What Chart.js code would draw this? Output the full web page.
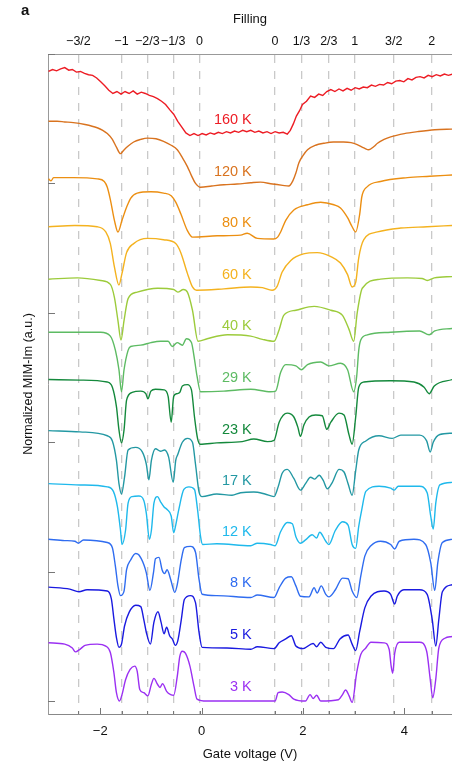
<!DOCTYPE html>
<html>
<head>
<meta charset="utf-8">
<script src="https://cdn.jsdelivr.net/npm/chart.js@4.4.1/dist/chart.umd.min.js"></script>
<style>
body{margin:0;background:#fff;overflow:hidden}
#wrap{position:relative;width:452px;height:764px}
#panel{position:absolute;left:21px;top:1px;font:bold 15px "Liberation Sans",Arial,sans-serif;color:#111}
</style>
</head>
<body>
<div id="wrap">
<canvas id="mim" width="452" height="764"></canvas>
<div id="panel">a</div>
</div>
<script>

// temperatures, top to bottom
const temps = ["160 K","120 K","80 K","60 K","40 K","29 K","23 K","17 K","12 K","8 K","5 K","3 K"]
const colors = ["#ed1c24","#d9731f","#ec8f12","#f4b21f","#9ccb3b","#5dbb63","#14893c","#2398a3","#1fb9ec","#2f6cf0","#1a1ae0","#9b30f2"]
const offsets = [43.8,39.8,35.85,31.85,27.9,23.9,19.85,15.9,12,8,4,0]

const voltTicks = [-2,0,2,4]
const voltLabels = ["\u22122","0","2","4"]
const fillingPos = [-2.43,-1.58,-1.07,-0.56,-0.04,1.45,1.97,2.51,3.02,3.79,4.54]
const fillingLabels = ["\u22123/2","\u22121","\u22122/3","\u22121/3","0","0","1/3","2/3","1","3/2","2"]
const yTicks = [0,10,20,30,40,50]

// [gate voltage, normalized MIM-Im] per trace
const t160 = [[-3.02,4.85],[-2.94,5.0],[-2.86,4.9],[-2.78,5.05],[-2.7,5.15],[-2.62,4.95],[-2.55,5.0],[-2.47,4.8],[-2.39,4.85],[-2.31,4.7],[-2.23,4.6],[-2.15,4.55],[-2.07,4.35],[-1.99,4.05],[-1.91,3.75],[-1.83,3.4],[-1.75,3.15],[-1.67,3.3],[-1.59,3.1],[-1.51,3.3],[-1.43,3.15],[-1.35,3.35],[-1.27,3.1],[-1.19,3.25],[-1.11,3.15],[-1.03,3.0],[-0.95,2.9],[-0.87,2.75],[-0.79,2.55],[-0.71,2.3],[-0.63,1.9],[-0.55,1.55],[-0.47,1.0],[-0.39,0.55],[-0.31,0.1],[-0.23,-0.1],[-0.15,0.05],[-0.07,-0.1],[0.01,0.05],[0.09,-0.05],[0.17,0.1],[0.25,0.0],[0.33,0.15],[0.41,0.05],[0.49,0.2],[0.57,0.1],[0.65,0.25],[0.73,0.15],[0.81,0.3],[0.89,0.2],[0.97,0.3],[1.05,0.15],[1.13,0.25],[1.21,0.1],[1.29,0.2],[1.37,0.05],[1.45,0.2],[1.53,0.1],[1.61,0.15],[1.69,0.0],[1.75,0.3],[1.81,0.8],[1.87,1.4],[1.93,1.8],[1.99,2.3],[2.07,2.55],[2.15,2.95],[2.23,2.85],[2.31,3.1],[2.39,3.0],[2.47,3.3],[2.55,3.45],[2.63,3.3],[2.71,3.5],[2.79,3.35],[2.87,3.55],[2.95,3.4],[3.03,3.6],[3.11,3.5],[3.19,3.65],[3.27,3.6],[3.35,3.8],[3.43,3.7],[3.51,3.85],[3.59,3.8],[3.67,4.0],[3.75,3.9],[3.83,4.1],[3.91,4.15],[3.99,4.05],[4.07,4.3],[4.15,4.2],[4.23,4.4],[4.31,4.45],[4.39,4.35],[4.47,4.55],[4.55,4.45],[4.63,4.6],[4.71,4.5],[4.79,4.65],[4.87,4.55],[4.95,4.65]]
const t120 = [[-3.02,5.0],[-2.85,5.0],[-2.7,4.95],[-2.53,4.9],[-2.3,4.75],[-2.06,4.5],[-1.95,4.3],[-1.86,4.05],[-1.76,3.6],[-1.68,3.0],[-1.6,2.5],[-1.54,2.75],[-1.46,3.05],[-1.34,3.4],[-1.2,3.6],[-1.07,3.7],[-0.9,3.65],[-0.75,3.45],[-0.6,3.15],[-0.48,2.8],[-0.38,2.2],[-0.28,1.5],[-0.2,0.8],[-0.12,0.2],[-0.02,-0.1],[0.2,0.0],[0.44,0.1],[0.7,0.15],[0.97,0.25],[1.16,0.3],[1.4,0.15],[1.6,0.05],[1.72,0.0],[1.8,0.4],[1.86,1.0],[1.92,1.8],[2.0,2.35],[2.09,2.8],[2.25,3.15],[2.41,3.3],[2.6,3.4],[2.8,3.4],[2.95,3.35],[3.07,3.2],[3.2,2.95],[3.3,2.8],[3.4,3.05],[3.47,3.3],[3.6,3.6],[3.73,3.8],[4.0,4.05],[4.26,4.2],[4.6,4.35],[4.95,4.4]]
const t80 = [[-3.02,4.5],[-2.97,4.35],[-2.92,4.6],[-2.53,4.6],[-2.06,4.5],[-1.92,4.3],[-1.86,3.85],[-1.8,2.9],[-1.72,1.3],[-1.65,0.4],[-1.57,1.3],[-1.48,2.3],[-1.4,3.0],[-1.27,3.4],[-1.0,3.5],[-0.75,3.4],[-0.6,3.2],[-0.51,2.7],[-0.41,1.8],[-0.28,0.5],[-0.18,0.0],[0.31,0.1],[0.77,0.15],[0.9,0.3],[1.1,-0.1],[1.42,-0.15],[1.5,0.0],[1.56,0.4],[1.66,1.3],[1.82,2.1],[2.09,2.5],[2.35,2.7],[2.61,2.5],[2.74,2.25],[2.88,1.5],[2.97,0.8],[3.04,0.4],[3.12,1.8],[3.16,3.1],[3.27,3.9],[3.53,4.3],[4.06,4.6],[4.5,4.7],[4.95,4.8]]
const t60 = [[-3.02,4.8],[-2.5,4.9],[-2.06,4.8],[-1.89,4.4],[-1.8,3.5],[-1.72,1.7],[-1.63,0.3],[-1.57,1.2],[-1.48,2.8],[-1.34,3.5],[-1.07,3.9],[-0.75,3.8],[-0.51,3.5],[-0.41,2.8],[-0.28,1.2],[-0.18,0.15],[-0.1,-0.1],[0.44,0.0],[0.97,0.15],[1.2,0.1],[1.39,-0.1],[1.49,0.2],[1.59,1.3],[1.76,2.2],[2.01,2.7],[2.28,2.8],[2.55,2.5],[2.74,2.0],[2.88,1.1],[2.97,0.15],[3.04,0.5],[3.1,2.4],[3.2,3.8],[3.47,4.4],[3.93,4.7],[4.45,4.8],[4.95,4.9]]
const t40 = [[-3.02,4.7],[-2.45,4.8],[-1.99,4.6],[-1.8,4.3],[-1.72,3.3],[-1.65,1.5],[-1.59,0.0],[-1.53,1.5],[-1.45,3.2],[-1.27,3.7],[-0.87,4.0],[-0.55,3.9],[-0.47,3.7],[-0.36,3.9],[-0.28,3.7],[-0.18,2.3],[-0.07,-0.1],[0.11,0.1],[0.51,0.4],[0.97,0.3],[1.2,0.05],[1.43,-0.1],[1.53,0.8],[1.62,1.9],[1.86,2.3],[2.22,2.6],[2.55,2.3],[2.78,1.9],[2.91,0.8],[3.0,-0.1],[3.07,2.1],[3.17,4.0],[3.53,4.7],[4.06,4.8],[4.35,4.75],[4.45,4.6],[4.59,4.8],[4.95,4.9]]
const t29 = [[-3.02,4.6],[-1.99,4.6],[-1.8,4.3],[-1.7,3.2],[-1.63,1.7],[-1.58,0.0],[-1.53,1.7],[-1.45,3.2],[-1.4,3.5],[-1.2,3.6],[-1.0,3.8],[-0.81,3.9],[-0.66,3.9],[-0.58,3.5],[-0.48,3.8],[-0.38,3.6],[-0.3,4.1],[-0.2,3.8],[-0.14,2.5],[-0.09,1.2],[-0.02,0.0],[0.44,0.05],[0.97,0.2],[1.36,0.0],[1.46,0.05],[1.56,1.5],[1.66,2.1],[1.86,2.0],[1.97,1.7],[2.09,2.1],[2.35,2.3],[2.51,2.0],[2.74,2.2],[2.88,1.7],[3.0,0.0],[3.06,1.2],[3.1,3.2],[3.14,4.0],[3.27,4.4],[3.73,4.6],[4.3,4.7],[4.49,4.4],[4.6,4.7],[4.95,4.9]]
const t23 = [[-3.02,5.0],[-2.4,4.95],[-1.86,4.8],[-1.76,4.4],[-1.68,2.9],[-1.63,1.1],[-1.58,0.1],[-1.53,1.1],[-1.48,3.4],[-1.37,4.0],[-1.2,4.1],[-1.1,3.9],[-1.06,3.5],[-1.0,4.1],[-0.91,4.25],[-0.74,4.2],[-0.66,3.7],[-0.6,1.7],[-0.55,3.7],[-0.49,3.9],[-0.43,4.0],[-0.38,4.5],[-0.28,4.6],[-0.2,4.2],[-0.14,2.1],[-0.08,0.45],[-0.03,0.0],[0.3,0.1],[0.8,0.2],[1.03,0.4],[1.3,0.2],[1.43,0.3],[1.53,1.7],[1.69,2.4],[1.82,2.1],[1.9,1.3],[1.95,0.6],[2.02,1.5],[2.12,2.1],[2.25,2.25],[2.38,2.2],[2.47,1.15],[2.55,1.7],[2.71,2.4],[2.81,2.25],[2.91,0.7],[2.97,0.0],[3.04,2.1],[3.1,4.4],[3.2,4.8],[3.73,4.9],[4.19,4.8],[4.39,4.4],[4.49,3.9],[4.59,4.5],[4.95,5.0]]
const t17 = [[-3.02,5.0],[-2.4,4.9],[-1.86,4.6],[-1.76,4.2],[-1.68,2.7],[-1.63,0.9],[-1.58,0.1],[-1.52,1.4],[-1.45,3.5],[-1.3,3.7],[-1.17,3.35],[-1.09,2.4],[-1.04,1.2],[-0.99,2.7],[-0.91,3.6],[-0.81,3.4],[-0.73,3.5],[-0.65,2.95],[-0.56,1.0],[-0.51,2.7],[-0.47,3.15],[-0.38,4.1],[-0.28,4.4],[-0.18,4.1],[-0.12,2.4],[-0.05,0.25],[0.01,-0.1],[0.3,0.1],[0.6,0.0],[0.77,0.2],[1.03,0.25],[1.25,0.1],[1.43,-0.1],[1.51,0.65],[1.59,1.7],[1.69,2.0],[1.82,1.3],[1.95,0.4],[2.05,0.9],[2.15,1.4],[2.23,1.25],[2.32,1.55],[2.4,1.15],[2.48,0.5],[2.58,1.0],[2.71,2.0],[2.81,1.8],[2.89,0.9],[2.97,0.0],[3.04,1.9],[3.1,3.5],[3.24,4.2],[3.5,4.6],[3.76,4.4],[3.93,4.65],[4.3,4.65],[4.44,4.2],[4.51,3.35],[4.57,4.1],[4.7,4.7],[4.95,4.8]]
const t12 = [[-3.02,4.8],[-2.4,4.7],[-1.86,4.55],[-1.74,4.2],[-1.66,3.0],[-1.6,1.2],[-1.57,0.1],[-1.5,1.2],[-1.45,3.3],[-1.37,3.8],[-1.24,3.85],[-1.14,3.5],[-1.09,2.5],[-1.03,0.5],[-0.99,1.2],[-0.94,3.3],[-0.87,3.8],[-0.81,3.4],[-0.74,3.0],[-0.68,2.8],[-0.6,2.3],[-0.55,1.0],[-0.51,1.6],[-0.45,2.8],[-0.35,4.35],[-0.25,4.55],[-0.14,4.35],[-0.08,2.8],[-0.02,0.7],[0.02,0.1],[0.3,0.15],[0.97,0.0],[1.1,0.2],[1.36,0.1],[1.45,0.0],[1.56,1.1],[1.69,1.8],[1.79,1.7],[1.86,0.7],[1.95,0.2],[2.05,0.45],[2.18,0.85],[2.27,0.6],[2.33,1.05],[2.45,0.35],[2.51,0.1],[2.64,1.2],[2.78,1.85],[2.89,1.6],[2.97,0.1],[3.04,-0.2],[3.1,1.5],[3.16,2.8],[3.24,4.2],[3.5,4.6],[3.73,4.45],[3.8,4.3],[3.88,4.6],[4.3,4.6],[4.45,4.1],[4.52,2.3],[4.57,1.3],[4.62,3.3],[4.7,4.7],[4.95,4.9]]
const t8 = [[-3.02,4.5],[-2.7,4.4],[-2.5,4.35],[-2.43,4.2],[-2.33,4.45],[-1.86,4.25],[-1.76,3.85],[-1.7,2.4],[-1.65,0.9],[-1.6,0.15],[-1.53,0.5],[-1.48,2.15],[-1.4,2.9],[-1.3,3.4],[-1.24,3.3],[-1.14,2.55],[-1.09,1.9],[-1.02,0.55],[-0.95,1.9],[-0.91,3.0],[-0.84,3.1],[-0.78,2.15],[-0.73,1.85],[-0.68,2.15],[-0.61,1.4],[-0.53,0.4],[-0.48,1.0],[-0.4,2.95],[-0.34,3.85],[-0.22,3.95],[-0.12,3.5],[-0.05,1.4],[0.01,0.25],[0.3,0.15],[0.97,0.0],[1.1,0.2],[1.43,0.0],[1.53,0.75],[1.66,1.5],[1.77,1.6],[1.86,0.9],[1.95,0.1],[2.12,0.05],[2.22,0.75],[2.28,0.35],[2.36,0.9],[2.45,0.25],[2.51,0.05],[2.64,0.6],[2.78,1.5],[2.89,1.45],[2.97,0.5],[3.06,0.0],[3.14,1.65],[3.22,3.2],[3.34,4.0],[3.53,4.35],[3.73,4.1],[3.81,3.75],[3.9,4.35],[4.19,4.5],[4.42,4.1],[4.52,2.7],[4.6,0.55],[4.66,2.7],[4.75,4.25],[4.95,4.5]]
const t5 = [[-3.02,4.8],[-2.6,4.65],[-2.42,4.45],[-2.26,4.6],[-1.86,4.5],[-1.78,3.9],[-1.73,2.35],[-1.68,0.9],[-1.63,0.15],[-1.58,0.4],[-1.52,1.8],[-1.43,2.85],[-1.3,3.4],[-1.2,3.3],[-1.14,2.3],[-1.09,1.3],[-1.01,0.4],[-0.94,2.1],[-0.86,2.9],[-0.8,2.1],[-0.74,1.2],[-0.69,1.7],[-0.63,1.05],[-0.57,0.75],[-0.52,0.3],[-0.47,0.65],[-0.4,2.3],[-0.34,3.85],[-0.22,4.15],[-0.12,3.6],[-0.05,1.3],[0.01,0.15],[0.5,0.1],[0.97,0.0],[1.1,0.2],[1.43,0.05],[1.53,0.5],[1.66,0.8],[1.77,1.05],[1.86,0.25],[2.0,0.05],[2.2,0.45],[2.27,0.2],[2.35,0.55],[2.45,0.15],[2.6,0.05],[2.73,0.8],[2.89,1.1],[2.97,0.4],[3.04,-0.1],[3.12,1.4],[3.22,3.2],[3.34,4.1],[3.6,4.5],[3.73,4.25],[3.81,3.5],[3.86,4.1],[3.99,4.6],[4.3,4.6],[4.45,4.25],[4.55,2.3],[4.62,0.25],[4.68,2.3],[4.75,4.45],[4.95,5.0]]
const t3 = [[-3.02,4.5],[-2.7,4.4],[-2.55,4.1],[-2.49,3.8],[-2.4,4.0],[-2.3,4.3],[-2.06,4.4],[-1.89,4.25],[-1.8,3.75],[-1.73,2.2],[-1.68,0.65],[-1.62,0.0],[-1.57,0.5],[-1.5,1.65],[-1.41,2.45],[-1.32,2.7],[-1.27,2.3],[-1.22,0.9],[-1.14,0.65],[-1.06,0.4],[-0.99,1.3],[-0.94,1.75],[-0.87,1.3],[-0.82,1.05],[-0.77,1.35],[-0.69,0.75],[-0.61,0.5],[-0.55,0.45],[-0.48,1.9],[-0.43,3.45],[-0.38,3.85],[-0.32,3.7],[-0.23,2.7],[-0.15,1.15],[-0.09,0.15],[0.1,0.0],[1.45,0.0],[1.51,0.65],[1.59,0.7],[1.72,0.5],[1.82,0.15],[2.05,0.0],[2.14,0.5],[2.2,0.2],[2.27,0.45],[2.35,0.0],[2.7,0.1],[2.78,0.5],[2.84,0.85],[2.91,0.4],[2.97,-0.1],[3.06,2.2],[3.14,3.6],[3.24,4.1],[3.34,4.55],[3.6,4.5],[3.7,4.0],[3.74,2.7],[3.77,2.15],[3.81,3.7],[3.9,4.55],[4.3,4.55],[4.44,3.85],[4.51,1.7],[4.56,0.25],[4.62,1.7],[4.68,4.1],[4.8,4.85],[4.95,5.0]]

const traces = [t160,t120,t80,t60,t40,t29,t23,t17,t12,t8,t5,t3]

const xMin = -3.03
const xMax = 4.94
const labelV = 0.99
const labelLift = 1.1

const FAMILY = '"Liberation Sans", Arial, Helvetica, sans-serif'
Chart.defaults.font.family = FAMILY
Chart.defaults.font.size = 13
Chart.defaults.color = "#111"

const tickMarks = {
id:"tickMarks",
afterDatasetsDraw(chart){
const {ctx, chartArea:a, scales} = chart
ctx.save()
ctx.strokeStyle = "#777"
ctx.lineWidth = 1
ctx.beginPath()
voltTicks.forEach(v => {
const px = Math.round(scales.x.getPixelForValue(v)) + 0.5
ctx.moveTo(px, a.bottom)
ctx.lineTo(px, a.bottom - 6)
})
fillingPos.forEach(v => {
const px = Math.round(scales.x.getPixelForValue(v)) + 0.5
ctx.moveTo(px, a.bottom)
ctx.lineTo(px, a.bottom - 3)
})
yTicks.forEach(v => {
const py = Math.round(scales.y.getPixelForValue(v)) + 0.5
ctx.moveTo(a.left, py)
ctx.lineTo(a.left + 7, py)
})
ctx.stroke()
ctx.restore()
}
}

const tempLabels = {
id:"tempLabels",
afterDatasetsDraw(chart){
const {ctx, scales:{x, y}} = chart
ctx.save()
ctx.font = "14.5px " + FAMILY
ctx.textAlign = "right"
ctx.textBaseline = "middle"
temps.forEach((t, i) => {
ctx.fillStyle = colors[i]
ctx.fillText(t, x.getPixelForValue(labelV), y.getPixelForValue(offsets[i] + labelLift))
})
ctx.restore()
}
}

new Chart(
document.getElementById("mim"),
{
type:"line",
data:{
datasets:traces.map((t, i) => ({
label:temps[i],
data:t.map(p => ({x:p[0], y:p[1] + offsets[i]})),
borderColor:colors[i],
borderWidth:1.4,
pointRadius:0,
fill:false,
tension:0,
cubicInterpolationMode:i === 0 ? "default" : "monotone"
}))
},
options:{
responsive:false,
animation:false,
devicePixelRatio:1,
layout:{padding:0},
plugins:{legend:{display:false}, tooltip:{enabled:false}},
scales:{
x:{
type:"linear", position:"bottom", min:xMin, max:xMax,
afterBuildTicks:s => { s.ticks = voltTicks.map(v => ({value:v})) },
ticks:{callback:(v, i) => voltLabels[i], padding:10, autoSkip:false, maxRotation:0},
grid:{display:false, drawTicks:false},
border:{display:true, color:"#888", width:1},
title:{display:true, text:"Gate voltage (V)", padding:{top:0, bottom:2}},
afterFit:s => { s.height = 50 }
},
x2:{
type:"linear", position:"top", min:xMin, max:xMax,
afterBuildTicks:s => { s.ticks = fillingPos.map(v => ({value:v})) },
ticks:{callback:(v, i) => fillingLabels[i], padding:5, autoSkip:false, maxRotation:0, font:{size:12.5}},
grid:{display:true, drawOnChartArea:true, drawTicks:false, color:"#c9c9c9", lineWidth:1.3},
border:{display:true, color:"#999", width:1, dash:[8,8]},
title:{display:true, text:"Filling", padding:{top:12, bottom:0}},
afterFit:s => { s.height = 54 }
},
y:{
type:"linear", min:-1, max:50,
afterBuildTicks:s => { s.ticks = yTicks.map(v => ({value:v})) },
ticks:{display:false},
grid:{display:false, drawTicks:false},
border:{display:true, color:"#999", width:1},
title:{display:true, text:"Normalized MIM-Im (a.u.)", font:{size:12.5}, padding:{top:21, bottom:0}},
afterFit:s => { s.width = 48 }
}
}
},
plugins:[tickMarks, tempLabels]
}
)

</script>
</body>
</html>
